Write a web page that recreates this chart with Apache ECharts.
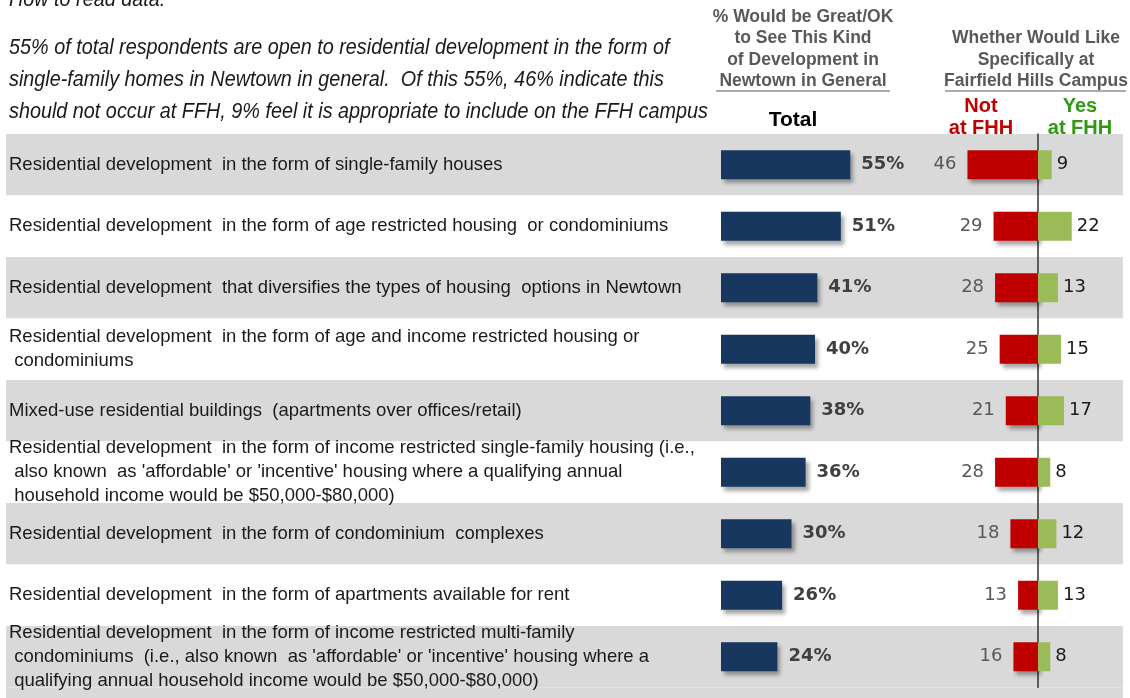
<!DOCTYPE html>
<html>
<head>
<meta charset="utf-8">
<title>Residential development - Newtown / FFH</title>
<script src="https://cdn.jsdelivr.net/npm/echarts@6/dist/echarts.min.js"></script>
<style>
  html, body { margin: 0; padding: 0; background: #fff; }
  #chart { width: 1130px; height: 698px; }
</style>
</head>
<body>
<div id="chart"></div>
<script>
// row labels, top to bottom
var categories = [
  'Residential development  in the form of single-family houses',
  'Residential development  in the form of age restricted housing  or condominiums',
  'Residential development  that diversifies the types of housing  options in Newtown',
  'Residential development  in the form of age and income restricted housing or\n condominiums',
  'Mixed-use residential buildings  (apartments over offices/retail)',
  "Residential development  in the form of income restricted single-family housing (i.e.,\n also known  as 'affordable' or 'incentive' housing where a qualifying annual\n household income would be $50,000-$80,000)",
  'Residential development  in the form of condominium  complexes',
  'Residential development  in the form of apartments available for rent',
  "Residential development  in the form of income restricted multi-family\n condominiums  (i.e., also known  as 'affordable' or 'incentive' housing where a\n qualifying annual household income would be $50,000-$80,000)"
]
var totalPct = [55, 51, 41, 40, 38, 36, 30, 26, 24]
var notAtFHH = [46, 29, 28, 25, 21, 28, 18, 13, 16]
var yesAtFHH = [9, 22, 13, 15, 17, 8, 12, 13, 8]

var NAVY = '#17375e'
var RED = '#c00000'
var GREEN = '#9bbb59'
var GRID_TOP = 134
var GRID_H = 553.5

var chart = echarts.init(document.getElementById('chart'))

var shadow = {
  shadowBlur: 4,
  shadowOffsetX: 3,
  shadowOffsetY: 4,
  shadowColor: 'rgba(0,0,0,0.35)'
}

function hiddenCat(idx) {
  return {
    type: 'category', gridIndex: idx, data: categories, inverse: true,
    axisLine: { show: false }, axisTick: { show: false }, axisLabel: { show: false }
  }
}

function txt(text, x, y, font, fill, align, lh) {
  return {
    type: 'text', x: x, y: y,
    style: { text: text, font: font, fill: fill, align: align || 'left', verticalAlign: 'middle', lineHeight: lh }
  }
}

// narrow italic note: squeeze a regular italic face horizontally
function note(text, y) {
  var t = txt(text, 9, y, 'italic 22px "Liberation Sans"', '#1a1a1a')
  t.scaleX = 0.9
  return t
}

var headFont = 'bold 17.5px "Liberation Sans"'
var option = {
  animation: false,
  grid: [
    { left: 6, right: 7, top: GRID_TOP, height: GRID_H },   // bands + row labels
    { left: 721, width: 235, top: GRID_TOP, height: GRID_H }, // total
    { left: 946, width: 184, top: GRID_TOP, height: GRID_H }  // not / yes at FHH
  ],
  xAxis: [
    { type: 'value', gridIndex: 0, show: false },
    { type: 'value', gridIndex: 1, min: 0, max: 100, show: false },
    { type: 'value', gridIndex: 2, min: -60, max: 60, show: false }
  ],
  yAxis: [
    {
      type: 'category', gridIndex: 0, data: categories, inverse: true,
      axisLine: { show: false }, axisTick: { show: false },
      splitArea: { show: true, areaStyle: { color: ['#d9d9d9', '#ffffff'] } },
      axisLabel: {
        inside: true, margin: 3, align: 'left',
        fontFamily: 'Liberation Sans', fontSize: 18.5, lineHeight: 24, color: '#1a1a1a'
      }
    },
    hiddenCat(1),
    {
      type: 'category', gridIndex: 2, data: categories, inverse: true,
      axisLine: { show: true, onZero: true, lineStyle: { color: '#333', width: 1.5 } },
      axisTick: { show: false }, axisLabel: { show: false }
    }
  ],
  series: [
    {
      name: 'Total', type: 'bar', xAxisIndex: 1, yAxisIndex: 1,
      data: totalPct, barWidth: 29,
      itemStyle: Object.assign({ color: NAVY }, shadow),
      label: {
        show: true, position: 'right', distance: 11, formatter: '{c}%',
        fontFamily: 'DejaVu Sans', fontWeight: 'bold', fontSize: 18, color: '#404040'
      }
    },
    {
      name: 'Not at FHH', type: 'bar', xAxisIndex: 2, yAxisIndex: 2, stack: 'fhh',
      data: notAtFHH.map(function (v) { return -v }), barWidth: 29,
      itemStyle: Object.assign({ color: RED }, shadow),
      label: {
        show: true, position: 'left', distance: 11,
        formatter: function (p) { return Math.abs(p.value) },
        fontFamily: 'DejaVu Sans', fontSize: 18, color: '#595959'
      }
    },
    {
      name: 'Yes at FHH', type: 'bar', xAxisIndex: 2, yAxisIndex: 2, stack: 'fhh',
      data: yesAtFHH, barWidth: 29,
      itemStyle: { color: GREEN },
      label: {
        show: true, position: 'right', distance: 5,
        fontFamily: 'DejaVu Sans', fontSize: 18, color: '#1a1a1a'
      }
    }
  ],
  graphic: [
    // grey band runs on past the last row
    { type: 'rect', shape: { x: 6, y: GRID_TOP + GRID_H, width: 1117, height: 20 }, style: { fill: '#d9d9d9' }, z: -1 },
    // how to read
    note('How to read data:', 0),
    note('55% of total respondents are open to residential development in the form of', 48),
    note('single-family homes in Newtown in general.  Of this 55%, 46% indicate this', 80),
    note('should not occur at FFH, 9% feel it is appropriate to include on the FFH campus', 112),
    // column headers
    txt('% Would be Great/OK\nto See This Kind\nof Development in\nNewtown in General', 803, 49, headFont, '#595959', 'center', 21.5),
    txt('Total', 793, 120, 'bold 21px "Liberation Sans"', '#000', 'center'),
    txt('Whether Would Like\nSpecifically at\nFairfield Hills Campus', 1036, 60, headFont, '#595959', 'center', 21.5),
    txt('Not\nat FHH', 981, 117, 'bold 20px "Liberation Sans"', RED, 'center', 22),
    txt('Yes\nat FHH', 1080, 117, 'bold 20px "Liberation Sans"', '#2e9a12', 'center', 22),
    // underlines
    { type: 'line', shape: { x1: 716, y1: 91, x2: 890, y2: 91 }, style: { stroke: '#595959', lineWidth: 1.2 } },
    { type: 'line', shape: { x1: 945, y1: 91, x2: 1126, y2: 91 }, style: { stroke: '#595959', lineWidth: 1.2 } }
  ]
}

chart.setOption(option)
</script>
</body>
</html>
